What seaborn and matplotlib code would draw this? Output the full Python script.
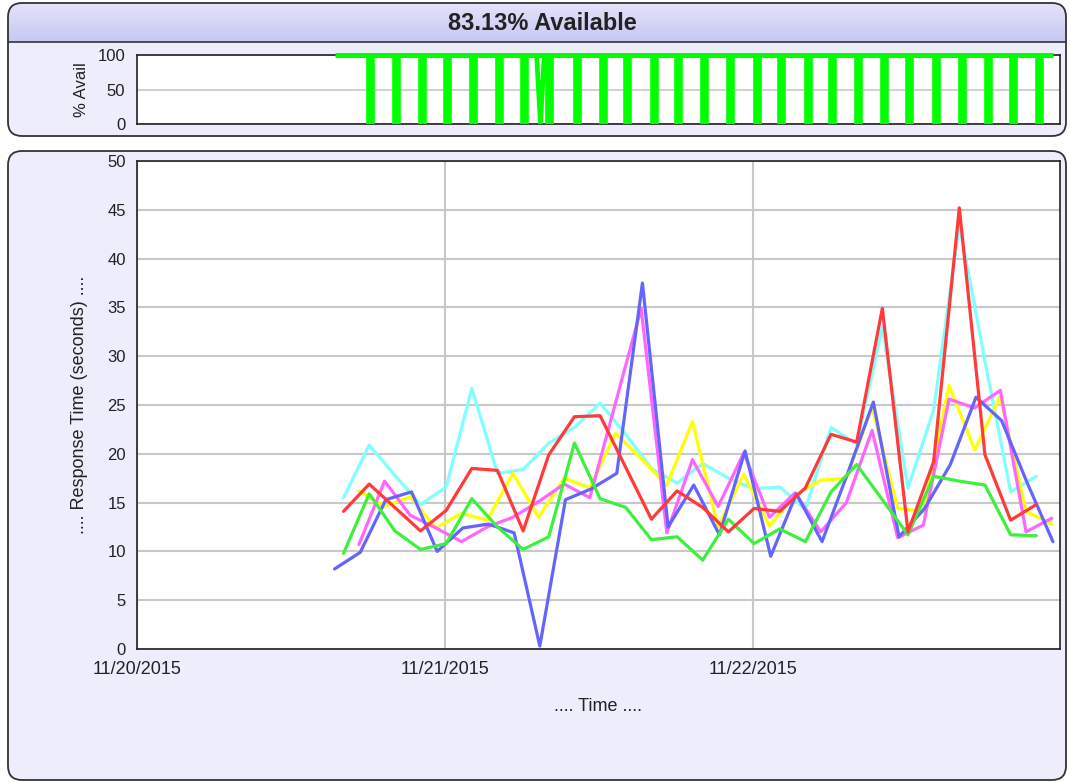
import matplotlib
matplotlib.use('Agg')
import numpy as np
import pandas as pd
import matplotlib.pyplot as plt
import matplotlib.dates as mdates
from matplotlib.patches import FancyBboxPatch
import seaborn as sns

# ---data (values in seconds, one sample every 2 hours)
base_day = pd.Timestamp('2015-11-20')

blue_start_h = 15.4
blue_vals = [8.2, 9.9, 15.3, 16.1, 10.0, 12.4, 12.8, 11.9, 0.3, 15.3, 16.4, 18.0, 37.5, 12.5,
             16.8, 11.7, 20.3, 9.5, 15.9, 11.0, 18.0, 25.3, 11.5, 14.4, 18.9, 25.8, 23.4, 17.0, 11.0]

magenta_start_h = 17.3
magenta_vals = [10.7, 17.2, 13.7, 12.4, 11.0, 12.5, 13.5, 15.1, 16.9, 15.5, 25.2, 34.9, 11.9, 19.4,
                14.6, 20.1, 13.5, 16.0, 12.0, 15.0, 22.4, 11.4, 12.7, 25.6, 24.7, 26.5, 12.0, 13.4]

yellow_start_h = 17.3
yellow_vals = [16.2, 14.6, 15.6, 12.4, 13.9, 13.2, 18.0, 13.5, 17.5, 16.5, 22.1, 19.5, 16.8, 23.3,
               12.5, 17.9, 12.6, 15.8, 17.3, 17.5, 24.8, 14.4, 14.1, 27.0, 20.4, 25.9, 14.1, 12.8]

cyan_start_h = 16.1
cyan_vals = [15.5, 20.9, 17.8, 14.8, 16.6, 26.7, 18.0, 18.4, 21.1, 22.7, 25.2, 22.0, 18.5, 17.0,
             19.0, 17.5, 16.4, 16.6, 14.3, 22.7, 21.0, 33.0, 16.5, 24.5, 43.5, 29.5, 16.1, 17.7]

green_start_h = 16.1
green_vals = [9.8, 15.9, 12.1, 10.2, 10.8, 15.4, 12.5, 10.2, 11.5, 21.1, 15.4, 14.5, 11.2, 11.5,
              9.1, 13.3, 10.8, 12.3, 11.0, 16.1, 18.9, 15.3, 11.7, 17.7, 17.2, 16.8, 11.7, 11.6]

red_start_h = 16.1
red_vals = [14.1, 16.9, 14.5, 12.1, 14.2, 18.5, 18.3, 12.1, 19.9, 23.8, 23.9, 18.6, 13.3, 16.2,
            14.5, 12.0, 14.4, 14.1, 16.5, 22.0, 21.2, 34.9, 12.0, 19.2, 45.2, 19.9, 13.2, 14.8]

# availability: 100% except short drops to 0 (hours after 11/20 00:00)
avail_span_h = [15.4, 71.4]
avail_dip_h = [18.2, 20.2, 22.25, 24.2, 26.2, 28.2, 30.2, 32.1, 34.3, 36.3, 38.2, 40.3, 42.2, 44.2,
               46.2, 48.3, 50.2, 52.3, 54.2, 56.2, 58.2, 60.2, 62.3, 64.3, 66.3, 68.3, 70.3]
avail_glitch_h = [31.15, 31.45, 31.75]
avail_glitch_vals = [100, 0, 100]

series = ['cyan', 'yellow', 'magenta', 'blue', 'green', 'red']
colors = {'cyan': '#80ffff', 'yellow': '#ffff00', 'magenta': '#ff66ff',
          'blue': '#6464ff', 'green': '#3cf03c', 'red': '#ff3a3a'}
starts = {'cyan': cyan_start_h, 'yellow': yellow_start_h, 'magenta': magenta_start_h,
          'blue': blue_start_h, 'green': green_start_h, 'red': red_start_h}
values = {'cyan': cyan_vals, 'yellow': yellow_vals, 'magenta': magenta_vals,
          'blue': blue_vals, 'green': green_vals, 'red': red_vals}


def hours_to_time(h):
    return base_day + pd.to_timedelta(np.asarray(h, dtype=float), unit='h')


frames = []
for name in series:
    v = values[name]
    t = hours_to_time(starts[name] + 2.0 * np.arange(len(v)))
    frames.append(pd.DataFrame({'time': t, 'seconds': v, 'series': name}))
df = pd.concat(frames, ignore_index=True)

# ---style
sns.set_style('white')
plt.rcParams['font.family'] = ['Liberation Sans', 'DejaVu Sans']
txt = '#222222'
lavender = '#ededfb'

fig = plt.figure(figsize=(10.7, 7.83), dpi=100)
fig.patch.set_facecolor('white')

# background panels drawn in pixel coordinates
bg = fig.add_axes([0, 0, 1, 1], zorder=-10)
bg.set_xlim(0, 1070)
bg.set_ylim(783, 0)
bg.axis('off')

top_panel = FancyBboxPatch((8, 3), 1058, 133, boxstyle='round,pad=0,rounding_size=14',
                           facecolor=lavender, edgecolor='none', zorder=1)
bg.add_patch(top_panel)
bar_clip = FancyBboxPatch((8, 3), 1058, 60, boxstyle='round,pad=0,rounding_size=14',
                          facecolor='none', edgecolor='none', zorder=1)
bg.add_patch(bar_clip)
grad = np.linspace(0, 1, 64)[:, None, None]
c_top = np.array([0.89, 0.89, 0.985])
c_bot = np.array([0.78, 0.78, 0.955])
bar_img = c_top * (1 - grad) + c_bot * grad
im = bg.imshow(bar_img, extent=(8, 1066, 42, 3), aspect='auto', interpolation='bilinear',
               zorder=2)
im.set_clip_path(bar_clip)
bg.set_xlim(0, 1070)
bg.set_ylim(783, 0)
bg.plot([8, 1066], [42, 42], color='#333333', lw=1.2, zorder=3)
bg.add_patch(FancyBboxPatch((8, 3), 1058, 133, boxstyle='round,pad=0,rounding_size=14',
                            facecolor='none', edgecolor='#333333', lw=1.3, zorder=4))
bg.text(542, 24, '83.13% Available', ha='center', va='center', fontsize=17,
        fontweight='bold', color=txt, zorder=5)

bg.add_patch(FancyBboxPatch((8, 151), 1058, 629, boxstyle='round,pad=0,rounding_size=14',
                            facecolor=lavender, edgecolor='#333333', lw=1.3, zorder=1))

x0 = base_day
x1 = base_day + pd.Timedelta(hours=71.95)

# ---availability strip
ax_top = fig.add_axes([137 / 1070, 1 - 124 / 783, 923 / 1070, 69 / 783])
ax_top.set_facecolor('white')
ax_top.hlines(100, hours_to_time(avail_span_h[0]), hours_to_time(avail_span_h[1]),
              color='#00ff00', lw=3.6, clip_on=False, zorder=3)
ax_top.vlines(hours_to_time(avail_dip_h), 0, 100, color='#00ff00', lw=6.2, zorder=3)
ax_top.plot(hours_to_time(avail_glitch_h), avail_glitch_vals, color='#00ff00', lw=3.4, zorder=3)
ax_top.set_xlim(x0, x1)
ax_top.set_ylim(0, 100)
ax_top.set_yticks([0, 50, 100])
ax_top.grid(axis='y', color='#c8c8c8', lw=1.2)
ax_top.set_axisbelow(True)
ax_top.xaxis.set_major_locator(mdates.DayLocator())
ax_top.xaxis.set_minor_locator(mdates.HourLocator(byhour=12))
ax_top.set_xticklabels([])
ax_top.tick_params(axis='both', which='both', direction='out', length=5, width=1,
                   colors='#222222', labelsize=12, labelcolor=txt)
ax_top.set_ylabel('% Avail', fontsize=12, color=txt, labelpad=6)
for s in ax_top.spines.values():
    s.set_color('#222222')
    s.set_linewidth(1.2)

# ---response time chart
ax = fig.add_axes([137 / 1070, 1 - 649 / 783, 923 / 1070, 488 / 783])
ax.set_facecolor('white')
sns.lineplot(data=df, x='time', y='seconds', hue='series', hue_order=series,
             palette=colors, linewidth=2.3, legend=False, ax=ax)
ax.set_xlim(x0, x1)
ax.set_ylim(0, 50)
ax.set_yticks(range(0, 51, 5))
ax.xaxis.set_major_locator(mdates.DayLocator())
ax.xaxis.set_major_formatter(mdates.DateFormatter('%m/%d/%Y'))
ax.xaxis.set_minor_locator(mdates.HourLocator(byhour=12))
ax.grid(axis='y', color='#c8c8c8', lw=1.5)
ax.grid(axis='x', which='major', color='#c8c8c8', lw=1.5)
ax.set_axisbelow(True)
ax.tick_params(axis='both', which='both', direction='out', length=5, width=1,
               colors='#222222', labelcolor=txt)
ax.tick_params(axis='y', labelsize=12, pad=3)
ax.tick_params(axis='x', labelsize=13, pad=4)
ax.set_xlabel('.... Time ....', fontsize=13, color=txt, labelpad=14)
ax.set_ylabel('.... Response Time (seconds) ....', fontsize=13, color=txt, labelpad=14)
for s in ax.spines.values():
    s.set_color('#222222')
    s.set_linewidth(1.2)

fig.savefig('out.png', dpi=100)
